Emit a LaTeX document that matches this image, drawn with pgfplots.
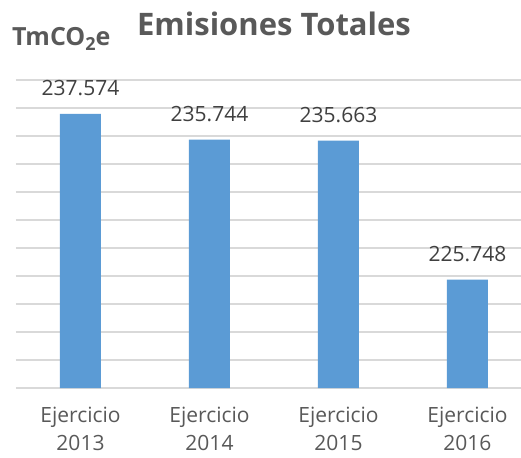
\documentclass[border=0pt]{standalone}
\usepackage{fontspec}
\setmainfont{Open Sans}
\usepackage{pgfplots}
\pgfplotsset{compat=1.18}
\definecolor{barblue}{HTML}{5B9BD5}
\definecolor{gridgray}{HTML}{D9D9D9}
\definecolor{titlegray}{HTML}{595959}
\definecolor{labelgray}{HTML}{404040}
\begin{document}
\begin{tikzpicture}
\useasboundingbox (0,0) rectangle (521pt,457pt);
\begin{axis}[%
	at={(16pt,69pt)},%
	anchor=south west,%
	scale only axis,%
	width=505pt,%
	height=308pt,%
	ybar,%
	bar width=41pt,%
	xmin=-0.5, xmax=3.415,%
	ymin=218, ymax=240,%
	ytick={218,220,...,240},%
	yticklabels={},%
	ymajorgrids=true,%
	grid style={gridgray, line width=1.4pt},%
	axis line style={draw=none},%
	major tick length=0pt,%
	xtick=data,%
	xticklabels={{Ejercicio\\2013},{Ejercicio\\2014},{Ejercicio\\2015},{Ejercicio\\2016}},%
	xticklabel style={align=center, text=titlegray, font=\fontsize{21}{28}\selectfont, inner sep=0pt, yshift=-19pt},%
	point meta=explicit symbolic,%
	nodes near coords,%
	every node near coord/.append style={anchor=base, inner sep=0pt, yshift=18pt, text=labelgray, font=\fontsize{21}{25}\selectfont},%
	]
\addplot[fill=barblue, draw=none]
	coordinates{
		(0,237.574) [237.574]
		(1,235.744) [235.744]
		(2,235.663) [235.663]
		(3,225.748) [225.748]
};
\end{axis}
\node[anchor=base, inner sep=0pt, text=titlegray, font=\bfseries\fontsize{31}{35}\selectfont] at (274pt,421pt) {Emisiones Totales};
\node[anchor=base west, inner sep=0pt, text=titlegray, font=\bfseries\fontsize{25}{30}\selectfont] at (12pt,411pt) {TmCO\raisebox{-4.5pt}{\fontsize{18}{18}\selectfont 2}e};
\end{tikzpicture}
\end{document}
